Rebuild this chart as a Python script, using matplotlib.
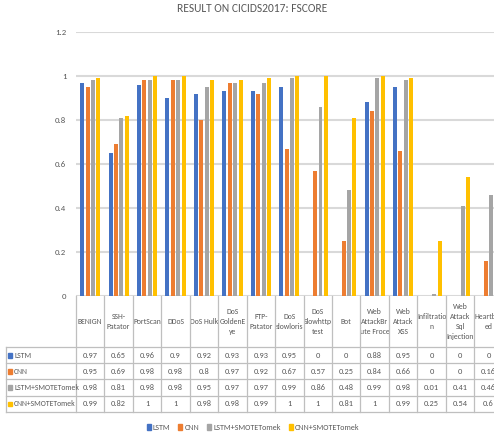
import matplotlib
matplotlib.use("Agg")
import matplotlib.pyplot as plt
import numpy as np
from matplotlib.patches import Patch
from matplotlib.transforms import blended_transform_factory
from matplotlib.lines import Line2D

plt.rcParams['font.family'] = ['Carlito', 'Lato', 'DejaVu Sans']

# attack classes (header text wrapped the way the table shows it)
categories = ['BENIGN', 'SSH-\nPatator', 'PortScan', 'DDoS', 'DoS Hulk',
              'DoS\nGoldenE\nye', 'FTP-\nPatator', 'DoS\nslowloris',
              'DoS\nSlowhttp\ntest', 'Bot', 'Web\nAttackBr\nute Froce',
              'Web\nAttack\nXSS', 'Infiltratio\nn', 'Web\nAttack\nSql\nInjection',
              'Heartble\ned']

series_names = ['LSTM', 'CNN', 'LSTM+SMOTETomek', 'CNN+SMOTETomek']
lstm = [0.97, 0.65, 0.96, 0.9, 0.92, 0.93, 0.93, 0.95, 0, 0, 0.88, 0.95, 0, 0, 0]
cnn = [0.95, 0.69, 0.98, 0.98, 0.8, 0.97, 0.92, 0.67, 0.57, 0.25, 0.84, 0.66, 0, 0, 0.16]
lstm_st = [0.98, 0.81, 0.98, 0.98, 0.95, 0.97, 0.97, 0.99, 0.86, 0.48, 0.99, 0.98, 0.01, 0.41, 0.46]
cnn_st = [0.99, 0.82, 1, 1, 0.98, 0.98, 0.99, 1, 1, 0.81, 1, 0.99, 0.25, 0.54, 0.6]
colors = ['#4472C4', '#ED7D31', '#A5A5A5', '#FFC000']

series = [lstm, cnn, lstm_st, cnn_st]
text_col = '#595959'
grid_col = '#D9D9D9'
line_col = '#BFBFBF'
fs = 6.0
fs_head = 5.6

W, H = 494, 434
fig = plt.figure(figsize=(W / 100, H / 100), dpi=100)

def fx(px):
    return px / W

def fy(py):
    return 1 - py / H

# plot area runs past the right border, like the exported excel chart
ax_left, ax_right, ax_top, ax_bot = 76, 502.7, 32, 296
ax = fig.add_axes([fx(ax_left), fy(ax_bot), fx(ax_right - ax_left), (ax_bot - ax_top) / H])

x = np.arange(len(categories))
step = 0.19
bw = 0.14
for i, (vals, c) in enumerate(zip(series, colors)):
    ax.bar(x + (i - 1.5) * step, vals, width=bw, color=c, zorder=3)

ax.set_xlim(-0.5, len(categories) - 0.5)
ax.set_ylim(0, 1.2)
ax.set_yticks(np.arange(0, 1.21, 0.2))
ax.set_yticklabels(['0', '0.2', '0.4', '0.6', '0.8', '1', '1.2'])
ax.tick_params(axis='y', length=0, labelsize=6.3, labelcolor=text_col, pad=7)
ax.set_xticks([])
ax.grid(axis='y', color=grid_col, linewidth=1.5, zorder=0)
for s in ax.spines.values():
    s.set_visible(False)

fig.text(fx(252), fy(9), 'RESULT ON CICIDS2017: FSCORE', ha='center', va='center',
         fontsize=8.3, color=text_col)

# data table under the axis
tr = blended_transform_factory(ax.transData, fig.transFigure)
head_top, head_bot = 296, 347.3
row_edges = [347.3, 363.3, 379.3, 395.7, 412.3]
lab_left = 6

def hline(py, x0, x1):
    fig.add_artist(Line2D([fx(x0), fx(x1)], [fy(py), fy(py)], color=line_col, lw=0.9))

def vline(px, y0, y1):
    fig.add_artist(Line2D([fx(px), fx(px)], [fy(y0), fy(y1)], color=line_col, lw=0.9))

for py in row_edges:
    hline(py, lab_left, W)
vline(lab_left, row_edges[0], row_edges[-1])
col_w = (ax_right - ax_left) / len(categories)
for k in range(len(categories) + 1):
    px = ax_left + k * col_w
    vline(px, head_top, row_edges[-1])

for k, name in enumerate(categories):
    ax.text(k, fy((head_top + head_bot) / 2), name, transform=tr, ha='center', va='center',
            fontsize=fs_head, color=text_col, linespacing=1.5)
    for r, vals in enumerate(series):
        ymid = (row_edges[r] + row_edges[r + 1]) / 2
        ax.text(k, fy(ymid), f'{vals[k]:g}', transform=tr, ha='center', va='center',
                fontsize=fs, color=text_col)

# row labels with their colour keys
for r, (name, c) in enumerate(zip(series_names, colors)):
    ymid = (row_edges[r] + row_edges[r + 1]) / 2
    fig.add_artist(plt.Rectangle((fx(8), fy(ymid + 2.3)), fx(4.3), 4.6 / H, color=c))
    fig.text(fx(14), fy(ymid), name, ha='left', va='center', fontsize=fs_head, color=text_col)

handles = [Patch(color=c, label=n) for n, c in zip(series_names, colors)]
fig.legend(handles=handles, loc='center', bbox_to_anchor=(fx(253), fy(427)), ncol=4,
           frameon=False, fontsize=5.8, handlelength=0.5, handleheight=0.7,
           handletextpad=0.25, columnspacing=1.0, labelcolor=text_col)

fig.savefig('out.png', dpi=100)
